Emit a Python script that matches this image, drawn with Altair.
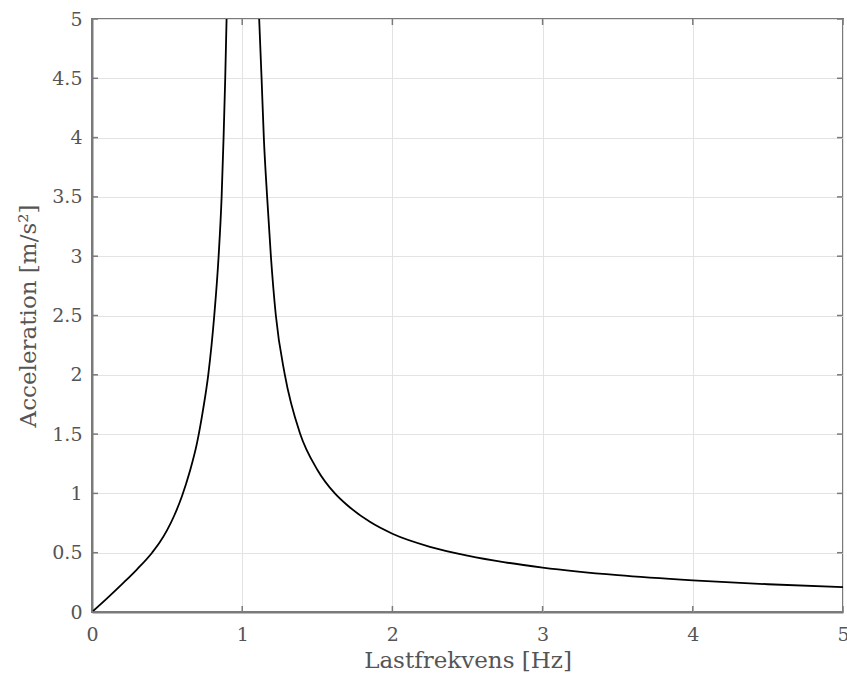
import altair as alt
import pandas as pd

# Rising branch (below resonance)
f_rise = [0.0, 0.10, 0.20, 0.30, 0.40, 0.45, 0.50, 0.55, 0.60, 0.65, 0.70, 0.74, 0.774, 0.814, 0.843, 0.863, 0.876, 0.887, 0.896]
a_rise = [0.0, 0.115, 0.235, 0.36, 0.50, 0.585, 0.69, 0.82, 0.98, 1.18, 1.43, 1.71, 2.00, 2.50, 3.00, 3.50, 4.00, 4.50, 5.00]

# Falling branch (above resonance)
f_fall = [1.113, 1.129, 1.144, 1.166, 1.191, 1.224, 1.284, 1.384, 1.50, 1.617, 1.70, 1.85, 2.0, 2.25, 2.5, 2.75, 3.0, 3.5, 4.0, 4.5, 5.0]
a_fall = [5.00, 4.50, 4.00, 3.50, 3.00, 2.50, 2.00, 1.51, 1.20, 1.00, 0.90, 0.76, 0.66, 0.55, 0.476, 0.419, 0.375, 0.311, 0.267, 0.234, 0.21]

x_ticks = [0, 1, 2, 3, 4, 5]
y_ticks = [0, 0.5, 1, 1.5, 2, 2.5, 3, 3.5, 4, 4.5, 5]

df = pd.DataFrame(
    {"f": f_rise + f_fall, "a": a_rise + a_fall,
     "branch": ["rise"] * len(f_rise) + ["fall"] * len(f_fall),
     "order": list(range(len(f_rise))) + list(range(len(f_fall)))}
)

W, H = 751, 593
FONT = "DejaVu Serif"
TXT = "#555555"

xs = alt.Scale(domain=[0, 5], nice=False, zero=False)
ys = alt.Scale(domain=[0, 5], nice=False, zero=False)

base = alt.Chart(df)

line = base.mark_line(color="black", strokeWidth=1.8, clip=True, interpolate="monotone").encode(
    x=alt.X("f:Q", scale=xs,
            axis=alt.Axis(values=x_ticks, title="Lastfrekvens [Hz]", grid=True,
                          gridColor="#e3e3e3", gridWidth=1, ticks=False,
                          domainColor="#7a7a7a", domainWidth=2,
                          labelExpr="datum.value + ''", labelFlush=False,
                          labelFont=FONT, labelFontSize=19, labelColor=TXT,
                          labelPadding=13, titleFont=FONT, titleFontSize=23,
                          titleFontWeight="normal", titleColor=TXT, titlePadding=5)),
    y=alt.Y("a:Q", scale=ys,
            axis=alt.Axis(values=y_ticks, title="Acceleration [m/s²]", grid=True,
                          gridColor="#e3e3e3", gridWidth=1, ticks=False,
                          domainColor="#7a7a7a", domainWidth=2,
                          labelExpr="datum.value + ''", labelFlush=False,
                          labelFont=FONT, labelFontSize=19, labelColor=TXT,
                          labelPadding=10, titleFont=FONT, titleFontSize=23,
                          titleFontWeight="normal", titleColor=TXT, titlePadding=11)),
    detail="branch:N",
    order="order:Q",
)

tdx = pd.DataFrame({"v": x_ticks})
tdy = pd.DataFrame({"v": y_ticks})
tick_style = dict(color="#7a7a7a", strokeWidth=1.5)

xt_bottom = alt.Chart(tdx).mark_rule(**tick_style).encode(
    x=alt.X("v:Q", scale=xs), y=alt.value(H), y2=alt.value(H - 6))
xt_top = alt.Chart(tdx).mark_rule(**tick_style).encode(
    x=alt.X("v:Q", scale=xs), y=alt.value(0), y2=alt.value(6))
yt_left = alt.Chart(tdy).mark_rule(**tick_style).encode(
    y=alt.Y("v:Q", scale=ys), x=alt.value(0), x2=alt.value(6))
yt_right = alt.Chart(tdy).mark_rule(**tick_style).encode(
    y=alt.Y("v:Q", scale=ys), x=alt.value(W), x2=alt.value(W - 6))

chart = alt.layer(line, xt_bottom, xt_top, yt_left, yt_right).properties(
    width=W, height=H,
    autosize=alt.AutoSizeParams(type="none"),
    padding={"left": 92, "top": 19, "right": 4, "bottom": 74},
    background="white",
).configure_view(stroke="#7a7a7a", strokeWidth=2)

chart.save("out.html", embed_options={"renderer": "svg", "actions": False})
